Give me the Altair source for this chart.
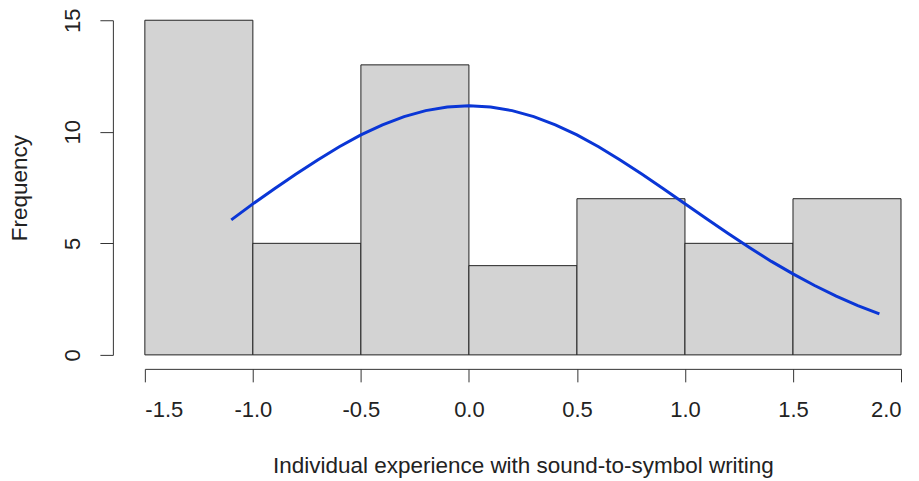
import altair as alt
import pandas as pd

bin_start = [-1.5, -1.0, -0.5, 0.0, 0.5, 1.0, 1.5]
bin_end = [-1.0, -0.5, 0.0, 0.5, 1.0, 1.5, 2.0]
counts = [15, 5, 13, 4, 7, 5, 7]

curve_x = [-1.1, -1.0, -0.9, -0.8, -0.7, -0.6, -0.5, -0.4, -0.3, -0.2, -0.1,
           0.0, 0.1, 0.2, 0.3, 0.4, 0.5, 0.6, 0.7, 0.8, 0.9, 1.0, 1.1,
           1.2, 1.3, 1.4, 1.5, 1.6, 1.7, 1.8, 1.9]
curve_y = [6.05, 6.77, 7.45, 8.11, 8.74, 9.33, 9.86, 10.31, 10.68, 10.95, 11.11,
           11.17, 11.11, 10.95, 10.68, 10.31, 9.86, 9.33, 8.74, 8.11, 7.45, 6.77, 6.10,
           5.44, 4.80, 4.19, 3.63, 3.11, 2.63, 2.21, 1.84]

x_ticks = [-1.5, -1.0, -0.5, 0.0, 0.5, 1.0, 1.5, 2.0]
y_ticks = [0, 5, 10, 15]

bars_df = pd.DataFrame({"start": bin_start, "end": bin_end, "count": counts})
curve_df = pd.DataFrame({"x": curve_x, "y": curve_y})

FONT = "Liberation Sans"

xscale = alt.Scale(domain=[-1.5, 2.0], nice=False, zero=False)
yscale = alt.Scale(domain=[0, 15], nice=False)

xaxis = alt.Axis(values=x_ticks, offset=14, labelPadding=18,
                 labelExpr="replace(format(datum.value, '.1f'), '\u2212', '-')",
                 title="Individual experience with sound-to-symbol writing", titlePadding=34)
yaxis = alt.Axis(values=y_ticks, offset=32, labelAngle=-90, labelPadding=15,
                 title="Frequency", titlePadding=30)

bars = alt.Chart(bars_df).mark_rect(
    fill="#D3D3D3", stroke="#222222", strokeWidth=1
).encode(
    x=alt.X("start:Q", scale=xscale, axis=xaxis),
    x2="end:Q",
    y=alt.Y("count:Q", scale=yscale, axis=yaxis),
    y2=alt.datum(0),
)

curve = alt.Chart(curve_df).mark_line(color="#0A36D6", strokeWidth=3).encode(
    x=alt.X("x:Q", scale=xscale, axis=xaxis),
    y=alt.Y("y:Q", scale=yscale, axis=yaxis),
)

chart = alt.layer(bars, curve).properties(
    width=757, height=335,
    autosize=alt.AutoSizeParams(type="none"),
    padding={"left": 137, "top": 12, "right": 10, "bottom": 126},
).configure(background="white").configure_view(stroke=None).configure_axis(
    tickSize=13, labelFontSize=22, labelFont=FONT, labelColor="#222222",
    domainColor="#333333", tickColor="#333333", grid=False,
    titleFont=FONT, titleFontSize=22.5, titleFontWeight="normal", titleColor="#222222",
)

chart.save("out.html", embed_options={"renderer": "svg", "actions": False})
